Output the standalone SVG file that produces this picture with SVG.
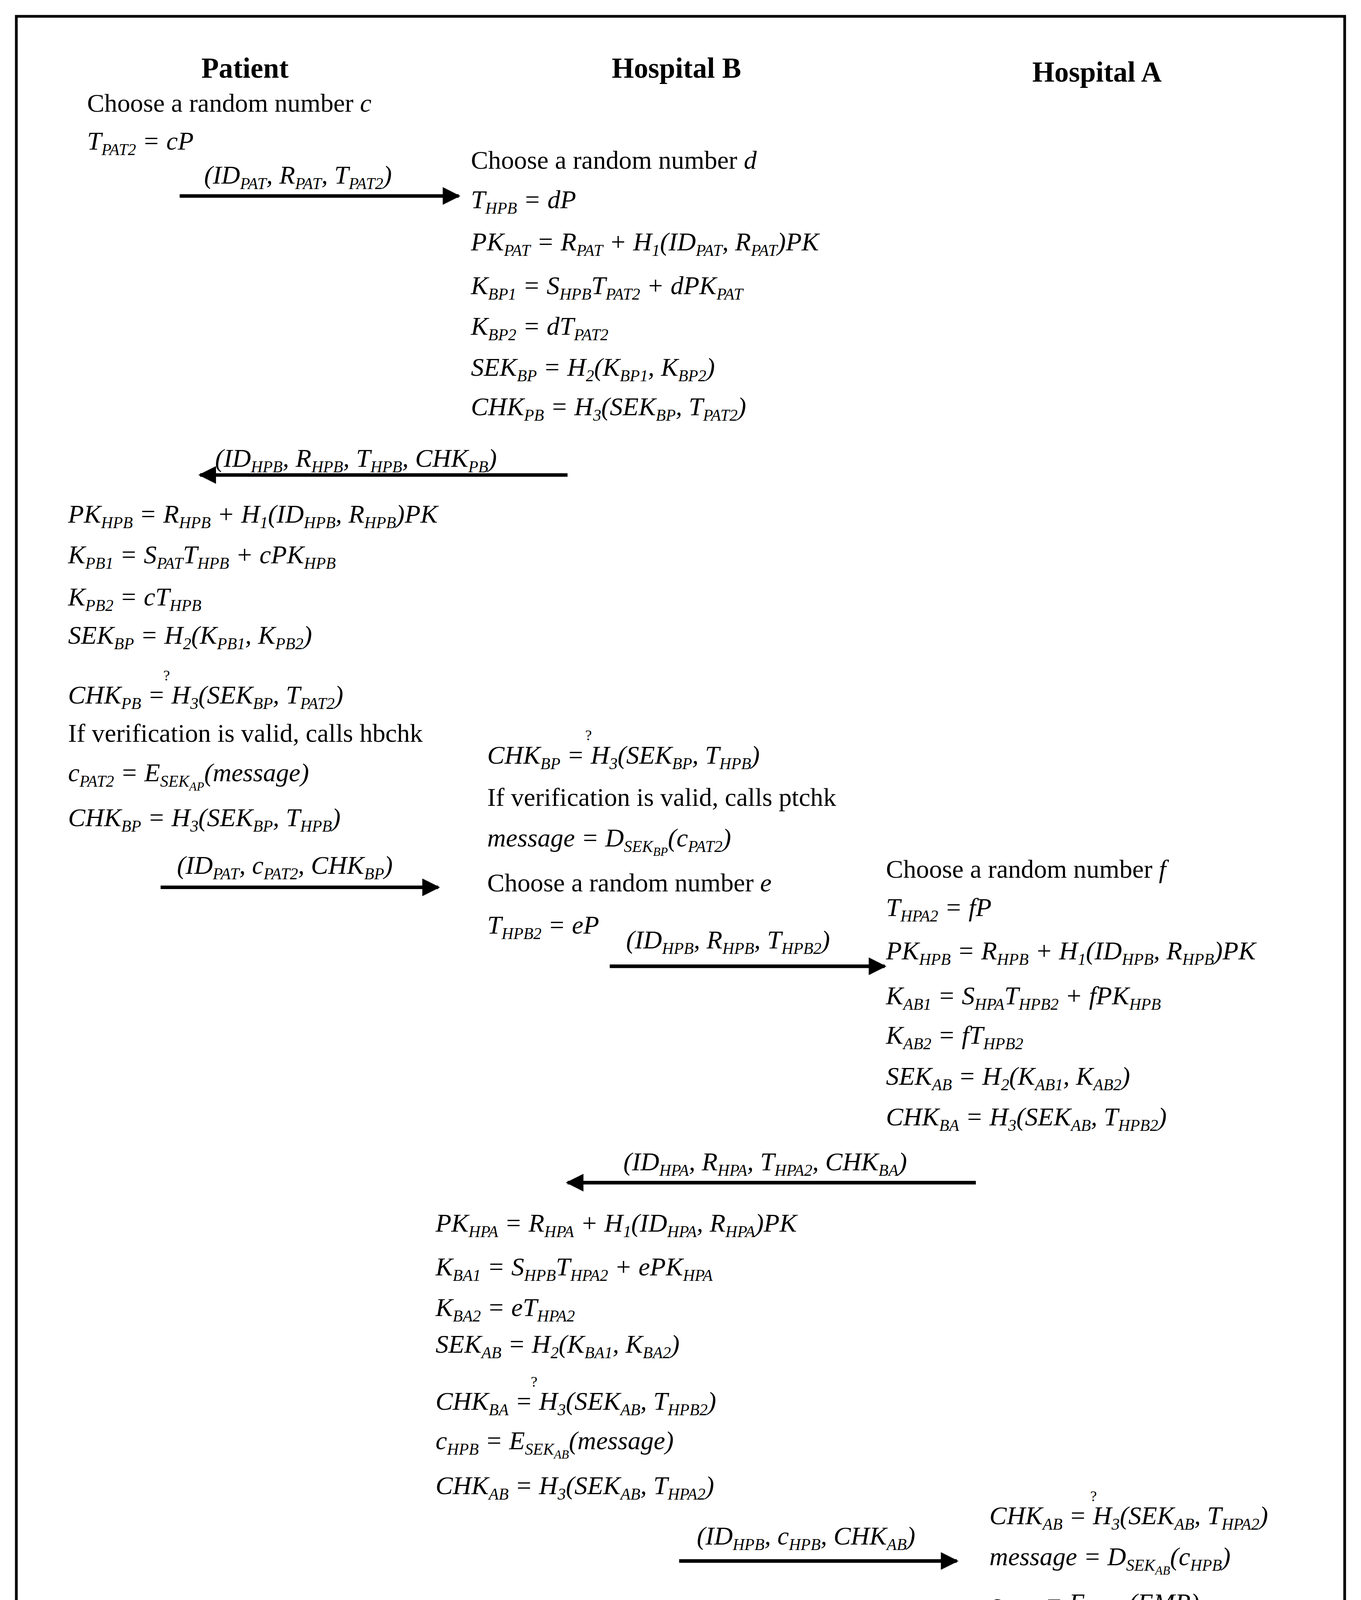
<svg xmlns="http://www.w3.org/2000/svg" width="3484" height="5459" viewBox="0 0 3484 5459">
<style>
text{font-family:"Liberation Serif","Times New Roman",serif;font-size:19px;fill:#000}
.h{font-weight:bold;font-size:21px;text-anchor:middle}
.e{font-style:italic}
.n{font-style:normal}
.b{font-size:12px;baseline-shift:-4px}
.c{font-size:9px;baseline-shift:-3px}
.q{font-size:11px;font-style:normal}
.a{stroke:#000;stroke-width:2.6;fill:none;marker-end:url(#ah)}
</style>
<defs><marker id="ah" viewBox="0 0 10 10" refX="9" refY="5" markerWidth="6" markerHeight="5" orient="auto" markerUnits="strokeWidth"><path d="M0,0L10,5L0,10z" fill="#000"/></marker></defs>
<rect width="3484" height="5459" fill="#fff"/>
<g transform="scale(3.484)">
<rect x="12" y="12" width="976" height="1543" fill="none" stroke="#000" stroke-width="2"/>
<g id="headers">
<text class="h" x="180" y="57">Patient</text>
<text class="h" x="497" y="57">Hospital B</text>
<text class="h" x="806" y="60">Hospital A</text>
</g>
<g id="connectors">
<line class="a" x1="132" y1="144" x2="337" y2="144"/>
<line class="a" x1="417" y1="349" x2="147" y2="349"/>
<line class="a" x1="118" y1="652" x2="322" y2="652"/>
<line class="a" x1="448" y1="710" x2="650" y2="710"/>
<line class="a" x1="717" y1="869" x2="417" y2="869"/>
<line class="a" x1="499" y1="1147" x2="703" y2="1147"/>
<line class="a" x1="775" y1="1267" x2="572" y2="1267"/>
<line class="a" x1="480" y1="1448" x2="278" y2="1448"/>
<text class="e" x="150" y="135">(ID<tspan class="b">PAT</tspan>, R<tspan class="b">PAT</tspan>, T<tspan class="b">PAT2</tspan>)</text>
<text class="e" x="158" y="343">(ID<tspan class="b">HPB</tspan>, R<tspan class="b">HPB</tspan>, T<tspan class="b">HPB</tspan>, CHK<tspan class="b">PB</tspan>)</text>
<text class="e" x="130" y="642">(ID<tspan class="b">PAT</tspan>, c<tspan class="b">PAT2</tspan>, CHK<tspan class="b">BP</tspan>)</text>
<text class="e" x="460" y="697">(ID<tspan class="b">HPB</tspan>, R<tspan class="b">HPB</tspan>, T<tspan class="b">HPB2</tspan>)</text>
<text class="e" x="458" y="860">(ID<tspan class="b">HPA</tspan>, R<tspan class="b">HPA</tspan>, T<tspan class="b">HPA2</tspan>, CHK<tspan class="b">BA</tspan>)</text>
<text class="e" x="512" y="1135">(ID<tspan class="b">HPB</tspan>, c<tspan class="b">HPB</tspan>, CHK<tspan class="b">AB</tspan>)</text>
<text class="e" x="592" y="1255">(ID<tspan class="b">HPA</tspan>, c<tspan class="b">HPA2</tspan>, Sig<tspan class="b">HPA2</tspan>)</text>
<text class="e" x="296" y="1437">(ID<tspan class="b">HPB</tspan>, c<tspan class="b">HPB2</tspan>, Sig<tspan class="b">HPB</tspan>)</text>
</g>
<g id="patient-1">
<text x="64" y="82">Choose a random number <tspan class="e">c</tspan></text>
<text class="e" x="64" y="110">T<tspan class="b">PAT2</tspan> = cP</text>
</g>
<g id="hospitalB-1">
<text x="346" y="124">Choose a random number <tspan class="e">d</tspan></text>
<text class="e" x="346" y="153">T<tspan class="b">HPB</tspan> = dP</text>
<text class="e" x="346" y="184">PK<tspan class="b">PAT</tspan> = R<tspan class="b">PAT</tspan> + H<tspan class="b">1</tspan>(ID<tspan class="b">PAT</tspan>, R<tspan class="b">PAT</tspan>)PK</text>
<text class="e" x="346" y="216">K<tspan class="b">BP1</tspan> = S<tspan class="b">HPB</tspan>T<tspan class="b">PAT2</tspan> + dPK<tspan class="b">PAT</tspan></text>
<text class="e" x="346" y="246">K<tspan class="b">BP2</tspan> = dT<tspan class="b">PAT2</tspan></text>
<text class="e" x="346" y="276">SEK<tspan class="b">BP</tspan> = H<tspan class="b">2</tspan>(K<tspan class="b">BP1</tspan>, K<tspan class="b">BP2</tspan>)</text>
<text class="e" x="346" y="305">CHK<tspan class="b">PB</tspan> = H<tspan class="b">3</tspan>(SEK<tspan class="b">BP</tspan>, T<tspan class="b">PAT2</tspan>)</text>
</g>
<g id="patient-2">
<text class="e" x="50" y="384">PK<tspan class="b">HPB</tspan> = R<tspan class="b">HPB</tspan> + H<tspan class="b">1</tspan>(ID<tspan class="b">HPB</tspan>, R<tspan class="b">HPB</tspan>)PK</text>
<text class="e" x="50" y="414">K<tspan class="b">PB1</tspan> = S<tspan class="b">PAT</tspan>T<tspan class="b">HPB</tspan> + cPK<tspan class="b">HPB</tspan></text>
<text class="e" x="50" y="445">K<tspan class="b">PB2</tspan> = cT<tspan class="b">HPB</tspan></text>
<text class="e" x="50" y="473">SEK<tspan class="b">BP</tspan> = H<tspan class="b">2</tspan>(K<tspan class="b">PB1</tspan>, K<tspan class="b">PB2</tspan>)</text>
<text class="q" x="120" y="500">?</text>
<text class="e" x="50" y="517">CHK<tspan class="b">PB</tspan> = H<tspan class="b">3</tspan>(SEK<tspan class="b">BP</tspan>, T<tspan class="b">PAT2</tspan>)</text>
<text x="50" y="545">If verification is valid, calls hbchk</text>
<text class="e" x="50" y="574">c<tspan class="b">PAT2</tspan> = E<tspan class="b">SEK<tspan class="c">AP</tspan></tspan>(message)</text>
<text class="e" x="50" y="607">CHK<tspan class="b">BP</tspan> = H<tspan class="b">3</tspan>(SEK<tspan class="b">BP</tspan>, T<tspan class="b">HPB</tspan>)</text>
</g>
<g id="hospitalB-2">
<text class="q" x="430" y="544">?</text>
<text class="e" x="358" y="561">CHK<tspan class="b">BP</tspan> = H<tspan class="b">3</tspan>(SEK<tspan class="b">BP</tspan>, T<tspan class="b">HPB</tspan>)</text>
<text x="358" y="592">If verification is valid, calls ptchk</text>
<text class="e" x="358" y="622">message = D<tspan class="b">SEK<tspan class="c">BP</tspan></tspan>(c<tspan class="b">PAT2</tspan>)</text>
<text x="358" y="655">Choose a random number <tspan class="e">e</tspan></text>
<text class="e" x="358" y="686">T<tspan class="b">HPB2</tspan> = eP</text>
</g>
<g id="hospitalA-1">
<text x="651" y="645">Choose a random number <tspan class="e">f</tspan></text>
<text class="e" x="651" y="673">T<tspan class="b">HPA2</tspan> = fP</text>
<text class="e" x="651" y="705">PK<tspan class="b">HPB</tspan> = R<tspan class="b">HPB</tspan> + H<tspan class="b">1</tspan>(ID<tspan class="b">HPB</tspan>, R<tspan class="b">HPB</tspan>)PK</text>
<text class="e" x="651" y="738">K<tspan class="b">AB1</tspan> = S<tspan class="b">HPA</tspan>T<tspan class="b">HPB2</tspan> + fPK<tspan class="b">HPB</tspan></text>
<text class="e" x="651" y="767">K<tspan class="b">AB2</tspan> = fT<tspan class="b">HPB2</tspan></text>
<text class="e" x="651" y="797">SEK<tspan class="b">AB</tspan> = H<tspan class="b">2</tspan>(K<tspan class="b">AB1</tspan>, K<tspan class="b">AB2</tspan>)</text>
<text class="e" x="651" y="827">CHK<tspan class="b">BA</tspan> = H<tspan class="b">3</tspan>(SEK<tspan class="b">AB</tspan>, T<tspan class="b">HPB2</tspan>)</text>
</g>
<g id="hospitalB-3">
<text class="e" x="320" y="905">PK<tspan class="b">HPA</tspan> = R<tspan class="b">HPA</tspan> + H<tspan class="b">1</tspan>(ID<tspan class="b">HPA</tspan>, R<tspan class="b">HPA</tspan>)PK</text>
<text class="e" x="320" y="937">K<tspan class="b">BA1</tspan> = S<tspan class="b">HPB</tspan>T<tspan class="b">HPA2</tspan> + ePK<tspan class="b">HPA</tspan></text>
<text class="e" x="320" y="967">K<tspan class="b">BA2</tspan> = eT<tspan class="b">HPA2</tspan></text>
<text class="e" x="320" y="994">SEK<tspan class="b">AB</tspan> = H<tspan class="b">2</tspan>(K<tspan class="b">BA1</tspan>, K<tspan class="b">BA2</tspan>)</text>
<text class="q" x="390" y="1019">?</text>
<text class="e" x="320" y="1036">CHK<tspan class="b">BA</tspan> = H<tspan class="b">3</tspan>(SEK<tspan class="b">AB</tspan>, T<tspan class="b">HPB2</tspan>)</text>
<text class="e" x="320" y="1065">c<tspan class="b">HPB</tspan> = E<tspan class="b">SEK<tspan class="c">AB</tspan></tspan>(message)</text>
<text class="e" x="320" y="1098">CHK<tspan class="b">AB</tspan> = H<tspan class="b">3</tspan>(SEK<tspan class="b">AB</tspan>, T<tspan class="b">HPA2</tspan>)</text>
</g>
<g id="hospitalA-2">
<text class="q" x="801" y="1103">?</text>
<text class="e" x="727" y="1120">CHK<tspan class="b">AB</tspan> = H<tspan class="b">3</tspan>(SEK<tspan class="b">AB</tspan>, T<tspan class="b">HPA2</tspan>)</text>
<text class="e" x="727" y="1150">message = D<tspan class="b">SEK<tspan class="c">AB</tspan></tspan>(c<tspan class="b">HPB</tspan>)</text>
<text class="e" x="727" y="1184">c<tspan class="b">HPA2</tspan> = E<tspan class="b">SEK<tspan class="c">AB</tspan></tspan>(EMR)</text>
<text class="e" x="727" y="1217">Sig<tspan class="b">HPA2</tspan> = S<tspan class="b">SK<tspan class="c">HPA</tspan></tspan>(EMR)</text>
</g>
<g id="hospitalB-4">
<text class="e" x="343" y="1225">EMR = D<tspan class="b">SEK<tspan class="c">AB</tspan></tspan>(c<tspan class="b">HPA2</tspan>)</text>
<text class="q" x="394" y="1253">?</text>
<text class="e" x="343" y="1270">EMR = V<tspan class="b">PK<tspan class="c">HPA</tspan></tspan>(Sig<tspan class="b">HPA2</tspan>)</text>
<text x="343" y="1303">If verification is valid, calls mrchk</text>
<text class="e" x="343" y="1333">c<tspan class="b">HPB2</tspan> = E<tspan class="b">SEK<tspan class="c">BP</tspan></tspan>(EMR, Cert<tspan class="b">HPB</tspan>)</text>
<text class="e" x="343" y="1366">Sig<tspan class="b">HPB</tspan> = S<tspan class="b">SK<tspan class="c">HPB</tspan></tspan>(EMR, Cert<tspan class="b">HPB</tspan>)</text>
<text x="343" y="1398">If <tspan class="e">ID</tspan><tspan class="b e">PAT</tspan> is valid, calls mrins and ptins</text>
</g>
<g id="patient-3">
<text class="e" x="52" y="1483">(EMR, Cert<tspan class="b">HPB</tspan>) = D<tspan class="b">SEK<tspan class="c">BP</tspan></tspan>(c<tspan class="b">HPB2</tspan>)</text>
<text class="q" x="181" y="1513">?</text>
<text class="e" x="52" y="1530">(EMR, Cert<tspan class="b">HPB</tspan>) = V<tspan class="b">PK<tspan class="c">HPB</tspan></tspan>(Sig<tspan class="b">HPB</tspan>)</text>
</g>
</g>
</svg>
